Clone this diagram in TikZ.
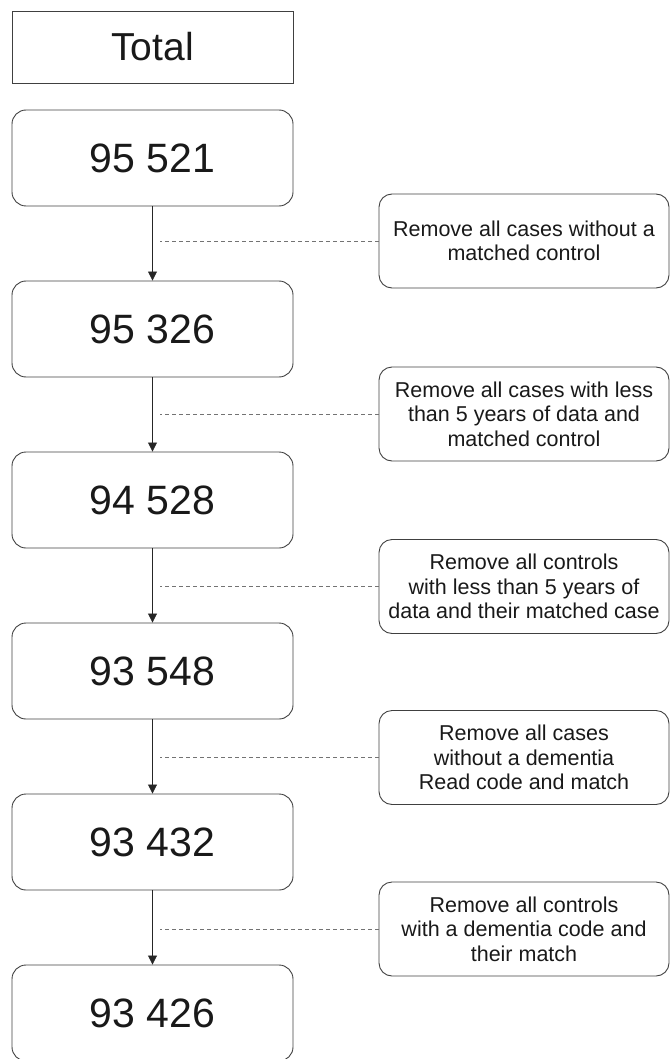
\documentclass[tikz,border=0pt]{standalone}
\usepackage{fontspec}
\setmainfont{Liberation Sans}
\usetikzlibrary{arrows.meta}
\begin{document}
\begin{tikzpicture}[x=1pt,y=-1pt,
  linecol/.style={draw=black!75, line width=0.9pt},
  mainbox/.style={linecol, rounded corners=14pt, minimum width=281pt, minimum height=96pt, inner sep=0pt, font=\fontsize{41}{45}\selectfont, text=black!90},
  totalbox/.style={draw=black!75, line width=0.8pt, minimum width=281pt, minimum height=72pt, inner sep=0pt, font=\fontsize{39}{43}\selectfont, text=black!90},
  sidebox/.style={linecol, rounded corners=13pt, minimum width=290pt, minimum height=94pt, inner sep=0pt, align=center, font=\fontsize{21.5}{24.5}\selectfont, text=black!90},
  flowarrow/.style={draw=black!85, line width=0.8pt, -{Triangle[width=9pt,length=9pt]}},
  dashline/.style={draw=black!55, line width=0.8pt, dash pattern=on 4pt off 3pt}
]
\useasboundingbox (0,0) rectangle (670,1059);
\begin{scope}
\clip (0,0) rectangle (670,1059);
\node[totalbox] (total) at (152.5,47) {Total};
\node[mainbox] (b1) at (152.5,158) {95 521};
\node[mainbox] (b2) at (152.5,329) {95 326};
\node[mainbox] (b3) at (152.5,500) {94 528};
\node[mainbox] (b4) at (152.5,671) {93 548};
\node[mainbox] (b5) at (152.5,842) {93 432};
\node[mainbox] (b6) at (152.5,1013) {93 426};

\node[sidebox] (s1) at (524,241) {Remove all cases without a\\matched control};
\node[sidebox] (s2) at (524,414) {Remove all cases with less\\than 5 years of data and\\matched control};
\node[sidebox] (s3) at (524,586.5) {Remove all controls\\with less than 5 years of\\data and their matched case};
\node[sidebox] (s4) at (524,757.5) {Remove all cases\\without a dementia\\Read code and match};
\node[sidebox] (s5) at (524,929) {Remove all controls\\with a dementia code and\\their match};

\foreach \a/\b/\s in {b1/b2/s1,b2/b3/s2,b3/b4/s3,b4/b5/s4,b5/b6/s5}{
  \draw[flowarrow] (\a.south) -- (\b.north);
  \coordinate (d\s) at ([xshift=7pt]\a.south |- \s.west);
  \draw[dashline] (\s.west) -- (d\s);
}
\end{scope}
\end{tikzpicture}
\end{document}
